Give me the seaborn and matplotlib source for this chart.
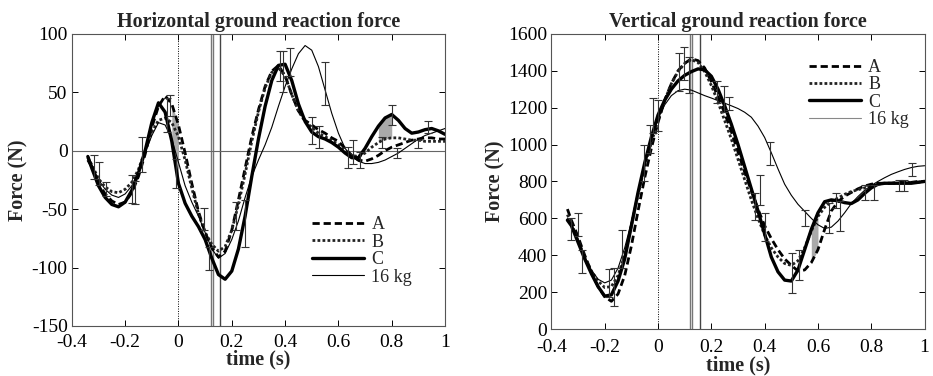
import numpy as np
import pandas as pd
import matplotlib
matplotlib.use('Agg')
import matplotlib.pyplot as plt
import seaborn as sns

# time grid (s) shared by every curve
time = [-0.34, -0.325, -0.3, -0.275, -0.25, -0.225, -0.2, -0.175, -0.15, -0.125,
        -0.1, -0.075, -0.05, -0.025, 0.0, 0.025, 0.05, 0.075, 0.1, 0.125,
        0.15, 0.175, 0.2, 0.225, 0.25, 0.275, 0.3, 0.325, 0.35, 0.375,
        0.4, 0.425, 0.45, 0.475, 0.5, 0.525, 0.55, 0.575, 0.6, 0.625,
        0.65, 0.675, 0.7, 0.725, 0.75, 0.775, 0.8, 0.825, 0.85, 0.875,
        0.9, 0.925, 0.95, 0.975, 1.0]

# horizontal ground reaction force (N)
horiz_A = [-8, -14, -28, -37, -43, -46, -44, -36, -22, -3,
           20, 38, 47, 40, 22, -2, -28, -52, -70, -83,
           -91, -86, -68, -42, -15, 12, 35, 55, 68, 73,
           64, 48, 34, 26, 22, 18, 15, 11, 8, 2,
           -4, -8, -9, -7, -4, 0, 3, 5, 7, 9,
           10, 11, 11, 10, 10]
horiz_B = [-6, -12, -24, -31, -35, -36, -33, -27, -16, 0,
           16, 26, 28, 24, 12, -8, -32, -54, -70, -80,
           -86, -82, -68, -46, -20, 8, 33, 54, 67, 71,
           64, 48, 34, 25, 20, 15, 12, 9, 5, 0,
           -4, -5, -2, 3, 7, 10, 11, 11, 10, 9,
           9, 8, 8, 8, 8]
horiz_C = [-5, -15, -30, -40, -46, -48, -44, -34, -19, 0,
           24, 41, 33, 8, -28, -45, -56, -65, -76, -92,
           -106, -110, -103, -84, -56, -22, 10, 38, 60, 73,
           74, 60, 40, 25, 16, 12, 10, 7, 3, -2,
           -6, -6, 2, 12, 21, 28, 31, 26, 19, 15,
           16, 18, 19, 17, 14]
horiz_16 = [-4, -12, -25, -33, -38, -40, -37, -30, -18, -2,
            13, 24, 22, 10, -10, -30, -44, -56, -70, -84,
            -92, -88, -76, -60, -40, -22, -8, 5, 20, 38,
            55, 70, 83, 90, 86, 72, 52, 32, 15, 2,
            -5, -9, -11, -11, -10, -8, -5, -2, 2, 6,
            10, 13, 15, 17, 19]

# vertical ground reaction force (N)
vert_A = [650, 590, 500, 400, 310, 230, 175, 150, 190, 290,
          450, 640, 820, 980, 1120, 1240, 1330, 1400, 1440, 1465,
          1455, 1415, 1340, 1260, 1170, 1070, 960, 850, 750, 650,
          560, 490, 430, 380, 345, 315, 320, 360, 430, 540,
          640, 690, 720, 740, 760, 775, 785, 790, 790, 790,
          795, 795, 795, 800, 800]
vert_B = [620, 570, 480, 390, 315, 260, 225, 230, 290, 400,
          560, 730, 880, 1010, 1130, 1240, 1330, 1395, 1440, 1460,
          1445, 1395, 1320, 1230, 1130, 1030, 920, 810, 700, 600,
          510, 440, 390, 355, 345, 370, 440, 530, 610, 660,
          690, 710, 730, 745, 755, 765, 775, 785, 790, 790,
          790, 795, 795, 795, 800]
vert_C = [590, 560, 470, 380, 300, 230, 178, 185, 260, 380,
          560, 740, 900, 1040, 1160, 1240, 1300, 1345, 1375, 1395,
          1410, 1405, 1370, 1300, 1210, 1110, 1000, 880, 760, 640,
          515, 390, 310, 265, 260, 320, 430, 540, 630, 690,
          700, 695, 685, 680, 700, 735, 765, 785, 790, 790,
          790, 790, 790, 795, 800]
vert_16 = [600, 560, 470, 390, 320, 270, 250, 265, 330, 440,
           580, 740, 890, 1030, 1140, 1215, 1265, 1292, 1300, 1295,
           1280, 1265, 1252, 1238, 1224, 1210, 1195, 1175, 1148, 1100,
           1038, 955, 868, 785, 725, 676, 638, 600, 565, 545,
           552, 585, 630, 680, 718, 752, 778, 800, 820, 838,
           852, 865, 875, 882, 885]

# error bars: time, lower, upper
h_err_t = [-0.315, -0.297, -0.27, -0.175, -0.163, -0.138, -0.044, -0.031, -0.01,
           0.094, 0.116, 0.215, 0.248, 0.379, 0.391, 0.419, 0.5, 0.529, 0.55,
           0.637, 0.656, 0.681, 0.762, 0.8, 0.819, 0.9, 0.937]
h_err_lo = [-24, -29, -39, -45, -46, -18, 16, 30, -32, -68, -102, -68, -82,
            60, 50, 64, 6, 2, 39, -15, -11, -15, 2, 22, -6, 2, 15]
h_err_hi = [-4, -10, -27, -21, -26, 12, 45, 48, -7, -49, -82, -44, -42,
            85, 85, 88, 29, 21, 76, 3, 9, -1, 12, 39, 2, 9, 25]

v_err_t = [-0.325, -0.3, -0.285, -0.185, -0.166, -0.135, -0.054, -0.029, -0.019,
           0.0, 0.078, 0.099, 0.115, 0.221, 0.246, 0.265, 0.365, 0.384, 0.4,
           0.42, 0.503, 0.528, 0.553, 0.64, 0.666, 0.684, 0.778, 0.81, 0.903,
           0.922, 0.953]
v_err_lo = [484, 502, 303, 171, 123, 330, 800, 953, 1062, 1071, 1290, 1350, 1278,
            1224, 1179, 1188, 592, 673, 475, 890, 195, 267, 556, 520, 655, 529,
            700, 700, 746, 746, 827]
v_err_hi = [601, 628, 430, 325, 330, 538, 999, 1107, 1251, 1242, 1498, 1526, 1477,
            1342, 1318, 1260, 739, 836, 628, 1016, 412, 430, 646, 682, 737, 692,
            782, 782, 809, 809, 899]

x_ticks = [-0.4, -0.2, 0, 0.2, 0.4, 0.6, 0.8, 1.0]
x_labels = ['-0.4', '-0.2', '0', '0.2', '0.4', '0.6', '0.8', '1']
event_lines = [0.121, 0.129, 0.156]

sns.set_style('ticks')
plt.rcParams['font.family'] = ['Liberation Serif', 'DejaVu Serif']

styles = {
    'A': dict(linestyle=(0, (2.6, 1.4)), linewidth=2.0, color='black'),
    'B': dict(linestyle=(0, (1, 0.8)), linewidth=2.0, color='#222222'),
    'C': dict(linestyle='-', linewidth=2.4, color='black'),
    '16 kg': dict(linestyle='-', linewidth=0.8, color='black'),
}

fig = plt.figure(figsize=(9.33, 3.76), dpi=100)
ax1 = fig.add_axes([0.077, 0.133, 0.400, 0.777])
ax2 = fig.add_axes([0.591, 0.125, 0.400, 0.785])

t = np.array(time)


def draw(ax, series, err_t, err_lo, err_hi, shade, ylim, yticks, title, legend_anchor, xpad):
    ax.axvline(0, color='black', linestyle=(0, (1, 1.5)), linewidth=0.7, zorder=1)
    ax.axvline(event_lines[0], color='#777777', linewidth=1.0, zorder=1)
    ax.axvline(event_lines[1], color='#777777', linewidth=1.0, zorder=1)
    ax.axvline(event_lines[2], color='#444444', linewidth=1.0, zorder=1)
    for lo_t, hi_t, upper, lower in shade:
        m = (t >= lo_t) & (t <= hi_t)
        ax.fill_between(t[m], np.array(series[upper])[m], np.array(series[lower])[m],
                        color='#aaaaaa', linewidth=0, zorder=2)
    for name, vals in series.items():
        sns.lineplot(x=time, y=vals, ax=ax, label=name, zorder=3, **styles[name])
    err_lo = np.array(err_lo)
    err_hi = np.array(err_hi)
    mid = (err_lo + err_hi) / 2
    ax.errorbar(err_t, mid, yerr=(err_hi - err_lo) / 2, fmt='none', ecolor='#333333',
                elinewidth=0.8, capsize=2.8, capthick=0.8, zorder=4)
    ax.set_xlim(-0.4, 1.0)
    ax.set_ylim(*ylim)
    ax.set_xticks(x_ticks)
    ax.set_xticklabels(x_labels)
    ax.set_yticks(yticks)
    ax.set_yticklabels([str(v) for v in yticks])
    ax.tick_params(direction='in', top=True, right=True, length=4, width=0.7,
                   labelsize=14, colors='black')
    ax.tick_params(axis='x', pad=xpad)
    ax.tick_params(axis='y', pad=3)
    for s in ax.spines.values():
        s.set_color('#555555')
        s.set_linewidth(0.8)
    ax.set_title(title, fontsize=14.5, fontweight='bold', pad=5)
    ax.set_xlabel('time (s)', fontsize=14.5, fontweight='bold', labelpad=-1)
    ax.set_ylabel('Force (N)', fontsize=14.5, fontweight='bold', labelpad=2)
    leg = ax.legend(loc='upper left', bbox_to_anchor=legend_anchor, frameon=False,
                    fontsize=13, handlelength=2.9, handletextpad=0.4,
                    labelspacing=0.02, borderaxespad=0, borderpad=0)
    return leg


draw(ax1, {'A': horiz_A, 'B': horiz_B, 'C': horiz_C, '16 kg': horiz_16},
     h_err_t, h_err_lo, h_err_hi,
     [(-0.025, 0.0, 'A', 'C'), (0.75, 0.8, 'C', 'B')],
     (-150, 100), [-150, -100, -50, 0, 50, 100],
     'Horizontal ground reaction force', (0.643, 0.375), 6)
ax1.axhline(0, color='#666666', linewidth=0.8, zorder=1)

leg2 = draw(ax2, {'A': vert_A, 'B': vert_B, 'C': vert_C, '16 kg': vert_16},
            v_err_t, v_err_lo, v_err_hi,
            [(0.575, 0.6, 'C', 'A')],
            (0, 1600), [0, 200, 400, 600, 800, 1000, 1200, 1400, 1600],
            'Vertical ground reaction force', (0.689, 0.915), 7.5)
leg2.get_lines()[3].set_color('#888888')

fig.savefig('out.png', dpi=100)
